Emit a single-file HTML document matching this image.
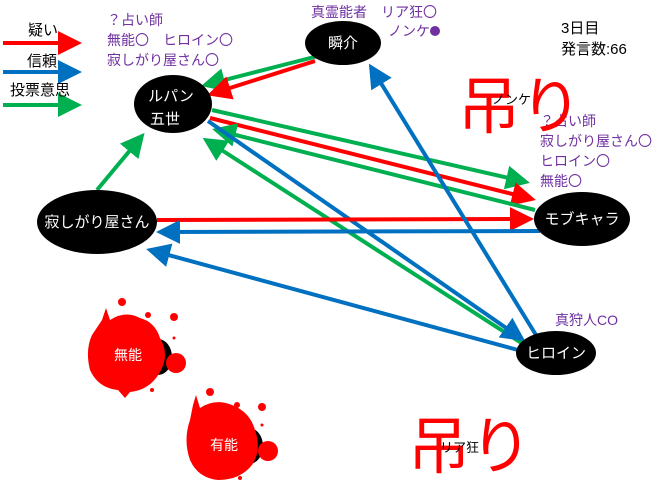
<!DOCTYPE html>
<html><head><meta charset="utf-8"><style>
html,body{margin:0;padding:0;background:#fff;width:660px;height:485px;overflow:hidden}
svg text{font-family:"Liberation Sans","Noto Sans CJK JP",sans-serif}
</style></head><body>
<svg width="660" height="485" viewBox="0 0 660 485" xmlns="http://www.w3.org/2000/svg">
<defs>
<marker id="r" markerWidth="6" markerHeight="6" refX="5" refY="3" orient="auto" markerUnits="strokeWidth"><path d="M0,0L6,3L0,6z" fill="#ff0000"/></marker>
<marker id="b" markerWidth="6" markerHeight="6" refX="5" refY="3" orient="auto" markerUnits="strokeWidth"><path d="M0,0L6,3L0,6z" fill="#0070c0"/></marker>
<marker id="g" markerWidth="6" markerHeight="6" refX="5" refY="3" orient="auto" markerUnits="strokeWidth"><path d="M0,0L6,3L0,6z" fill="#00b050"/></marker>
</defs>
<g stroke-width="4" fill="none">
<line x1="3" y1="43" x2="78" y2="43" stroke="#ff0000" marker-end="url(#r)"/>
<line x1="3" y1="72" x2="78" y2="72" stroke="#0070c0" marker-end="url(#b)"/>
<line x1="3" y1="105" x2="78" y2="105" stroke="#00b050" marker-end="url(#g)"/>
<line x1="318" y1="56" x2="205" y2="85" stroke="#00b050" marker-end="url(#g)"/>
<line x1="315" y1="61" x2="211" y2="94" stroke="#ff0000" marker-end="url(#r)"/>
<line x1="97" y1="190" x2="142" y2="136" stroke="#00b050" marker-end="url(#g)"/>
<line x1="212" y1="110" x2="526" y2="182" stroke="#00b050" marker-end="url(#g)"/>
<line x1="210" y1="118" x2="532" y2="199" stroke="#ff0000" marker-end="url(#r)"/>
<line x1="535" y1="210" x2="216" y2="130" stroke="#00b050" marker-end="url(#g)"/>
<line x1="526" y1="346" x2="206" y2="140" stroke="#00b050" marker-end="url(#g)"/>
<line x1="208" y1="121" x2="522" y2="339" stroke="#0070c0" marker-end="url(#b)"/>
<line x1="157" y1="220" x2="530" y2="219" stroke="#ff0000" marker-end="url(#r)"/>
<line x1="540" y1="231" x2="160" y2="232" stroke="#0070c0" marker-end="url(#b)"/>
<line x1="518" y1="350" x2="150" y2="250" stroke="#0070c0" marker-end="url(#b)"/>
<line x1="536" y1="335" x2="371" y2="67" stroke="#0070c0" marker-end="url(#b)"/>
</g>
<ellipse cx="343" cy="43" rx="38" ry="22" fill="#000"/>
<ellipse cx="173" cy="104" rx="39" ry="29" fill="#000"/>
<ellipse cx="97" cy="222" rx="60" ry="32" fill="#000"/>
<ellipse cx="582" cy="219" rx="48" ry="27" fill="#000"/>
<ellipse cx="556" cy="353" rx="40" ry="22" fill="#000"/>
<g fill="#fff" font-size="15" text-anchor="middle">
<text x="343" y="48">瞬介</text>
<text x="171" y="101">ルパン</text>
<text x="165" y="124">五世</text>
<text x="97" y="227">寂しがり屋さん</text>
<text x="582" y="224">モブキャラ</text>
<text x="556" y="358">ヒロイン</text>
</g>
<g fill="#ff0000">
<ellipse cx="158" cy="357" rx="14" ry="18" fill="#000"/>
<path d="M102,320 L106,308 L110,320 Q125,310 140,318 Q155,322 160,338 Q170,355 160,372 Q150,390 130,392 L125,398 L118,390 Q98,388 90,370 Q85,350 92,335 Z"/>
<circle cx="176" cy="363" r="10"/>
<circle cx="122" cy="302" r="4"/><circle cx="148" cy="315" r="3"/><circle cx="174" cy="317" r="4"/><circle cx="152" cy="390" r="2"/><circle cx="174" cy="338" r="1.5"/>
<ellipse cx="249" cy="446" rx="14" ry="18" fill="#000"/>
<path d="M193,405 L196,395 L200,408 Q215,398 232,405 Q250,412 255,430 Q262,450 252,465 Q240,480 218,480 Q198,478 190,460 Q183,440 190,420 Z"/>
<circle cx="268" cy="451" r="10"/>
<circle cx="210" cy="392" r="4"/><circle cx="237" cy="405" r="3"/><circle cx="262" cy="407" r="4"/><circle cx="262" cy="425" r="1.5"/><circle cx="240" cy="478" r="2"/>
</g>
<g fill="#fff" font-size="14" text-anchor="middle">
<text x="128" y="360">無能</text>
<text x="224" y="450">有能</text>
</g>
<g fill="#000" font-size="15">
<text x="28" y="35">疑い</text>
<text x="27" y="66">信頼</text>
<text x="10" y="95">投票意思</text>
<text x="561" y="33">3日目</text>
<text x="561" y="54">発言数:66</text>
</g>
<g fill="#7030a0" font-size="14">
<text x="107" y="25">？占い師</text>
<text x="107" y="45">無能〇　ヒロイン〇</text>
<text x="107" y="65">寂しがり屋さん〇</text>
<text x="311" y="17">真霊能者　リア狂〇</text>
<text x="388" y="36">ノンケ</text>
<circle cx="435" cy="31" r="5"/>
<text x="540" y="126">？占い師</text>
<text x="540" y="146">寂しがり屋さん〇</text>
<text x="540" y="166">ヒロイン〇</text>
<text x="540" y="186">無能〇</text>
<text x="555" y="325">真狩人CO</text>
</g>
<g fill="#ff0000" font-size="62">
<text x="458" y="128">吊り</text>
<text x="408" y="468">吊り</text>
</g>
<g fill="#000" font-size="13">
<text x="492" y="104">ノンケ</text>
<text x="440" y="452">リア狂</text>
</g>
</svg>
</body></html>
